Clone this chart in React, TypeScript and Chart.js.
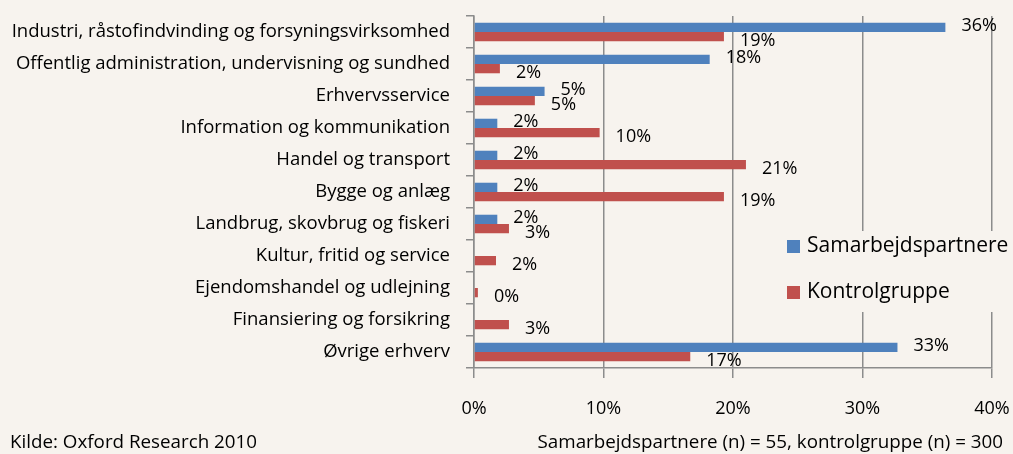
import { useEffect, useRef } from "react";
import { Chart, registerables } from "chart.js";
Chart.register(...registerables);

const BG = "#f7f3ee";
const GRID = "#8c8c8c";
const FONT = "'Open Sans'";

const categories = [
  "Industri, råstofindvinding og forsyningsvirksomhed",
  "Offentlig administration, undervisning og sundhed",
  "Erhvervsservice",
  "Information og kommunikation",
  "Handel og transport",
  "Bygge og anlæg",
  "Landbrug, skovbrug og fiskeri",
  "Kultur, fritid og service",
  "Ejendomshandel og udlejning",
  "Finansiering og forsikring",
  "Øvrige erhverv",
];
const seriesNames = ["Samarbejdspartnere", "Kontrolgruppe"];
const samarbejdspartnere = [36.4, 18.2, 5.45, 1.8, 1.8, 1.8, 1.8, 0, 0, 0, 32.7];
const kontrolgruppe = [19.3, 2.0, 4.7, 9.7, 21.0, 19.3, 2.7, 1.7, 0.3, 2.7, 16.7];
const xTicks = [0, 10, 20, 30, 40];
const sourceText = "Kilde: Oxford Research 2010";
const noteText = "Samarbejdspartnere (n) = 55, kontrolgruppe (n) = 300";

const COLORS = ["#4f81bd", "#c0504d"];
const LABEL_DY = [-1, 4];

const valueLabels = {
  id: "valueLabels",
  afterDatasetsDraw(chart: any) {
    const ctx = chart.ctx;
    ctx.save();
    ctx.font = `18px ${FONT}`;
    ctx.fillStyle = "#000";
    ctx.textAlign = "left";
    ctx.textBaseline = "middle";
    chart.data.datasets.forEach((ds: any, di: number) => {
      const meta = chart.getDatasetMeta(di);
      meta.data.forEach((bar: any, i: number) => {
        const v = ds.data[i];
        if (!v) return;
        ctx.fillText(Math.round(v) + "%", bar.x + 16, bar.y + LABEL_DY[di]);
      });
    });
    ctx.restore();
  },
};

const customLegend = {
  id: "customLegend",
  afterDraw(chart: any) {
    const ctx = chart.ctx;
    ctx.save();
    ctx.fillStyle = BG;
    ctx.fillRect(776, 231, 237, 81);
    ctx.font = `21px ${FONT}`;
    ctx.textAlign = "left";
    ctx.textBaseline = "middle";
    const rows = [246, 292];
    seriesNames.forEach((name, i) => {
      ctx.fillStyle = COLORS[i];
      ctx.fillRect(787, rows[i] - 6, 13, 13);
      ctx.fillStyle = "#000";
      ctx.fillText(name, 807, rows[i]);
    });
    ctx.restore();
  },
};

export default function App() {
  const ref = useRef<HTMLCanvasElement>(null);
  useEffect(() => {
    const chart = new Chart(ref.current!, {
      type: "bar",
      data: {
        labels: categories,
        datasets: [
          { label: seriesNames[0], data: samarbejdspartnere, backgroundColor: COLORS[0] },
          { label: seriesNames[1], data: kontrolgruppe, backgroundColor: COLORS[1] },
        ],
      },
      options: {
        indexAxis: "y",
        responsive: false,
        animation: false,
        devicePixelRatio: 1,
        layout: { padding: 0 },
        datasets: { bar: { categoryPercentage: 0.58, barPercentage: 1 } },
        plugins: { legend: { display: false }, tooltip: { enabled: false } },
        scales: {
          x: {
            min: 0,
            max: 40,
            afterBuildTicks: (s: any) => {
              s.ticks = xTicks.map((v) => ({ value: v }));
            },
            afterFit: (s: any) => {
              s.height = 86;
              s.paddingLeft = 0;
              s.paddingRight = 21;
              s.paddingTop = 0;
              s.paddingBottom = 0;
            },
            ticks: {
              callback: (v: any) => v + "%",
              font: { family: FONT, size: 18 },
              color: "#000",
              padding: 20,
              maxRotation: 0,
            },
            grid: { color: GRID, lineWidth: 1.5, tickLength: 10, drawTicks: true },
            border: { display: true, color: GRID, width: 1.5 },
          },
          y: {
            afterFit: (s: any) => {
              s.width = 474;
              s.paddingTop = 16;
              s.paddingBottom = 0;
              s.paddingLeft = 0;
              s.paddingRight = 0;
            },
            ticks: {
              font: { family: FONT, size: 18.5 },
              color: "#000",
              padding: 16,
              autoSkip: false,
            },
            grid: {
              drawOnChartArea: false,
              drawTicks: true,
              tickLength: 8,
              color: GRID,
              lineWidth: 1.5,
              offset: true,
            },
            border: { display: true, color: GRID, width: 1.5 },
          },
        },
      },
      plugins: [valueLabels, customLegend],
    } as any);
    return () => chart.destroy();
  }, []);
  return (
    <div
      style={{
        position: "fixed",
        left: 0,
        top: 0,
        width: 1013,
        height: 454,
        background: BG,
        fontFamily: FONT,
        overflow: "hidden",
      }}
    >
      <canvas ref={ref} width={1013} height={454} style={{ display: "block" }} />
      <div style={{ position: "absolute", left: 10, top: 429, fontSize: 18.8, lineHeight: "24px", color: "#000", whiteSpace: "nowrap" }}>
        {sourceText}
      </div>
      <div style={{ position: "absolute", right: 10, top: 429, fontSize: 18.8, lineHeight: "24px", color: "#000", whiteSpace: "nowrap" }}>
        {noteText}
      </div>
    </div>
  );
}
